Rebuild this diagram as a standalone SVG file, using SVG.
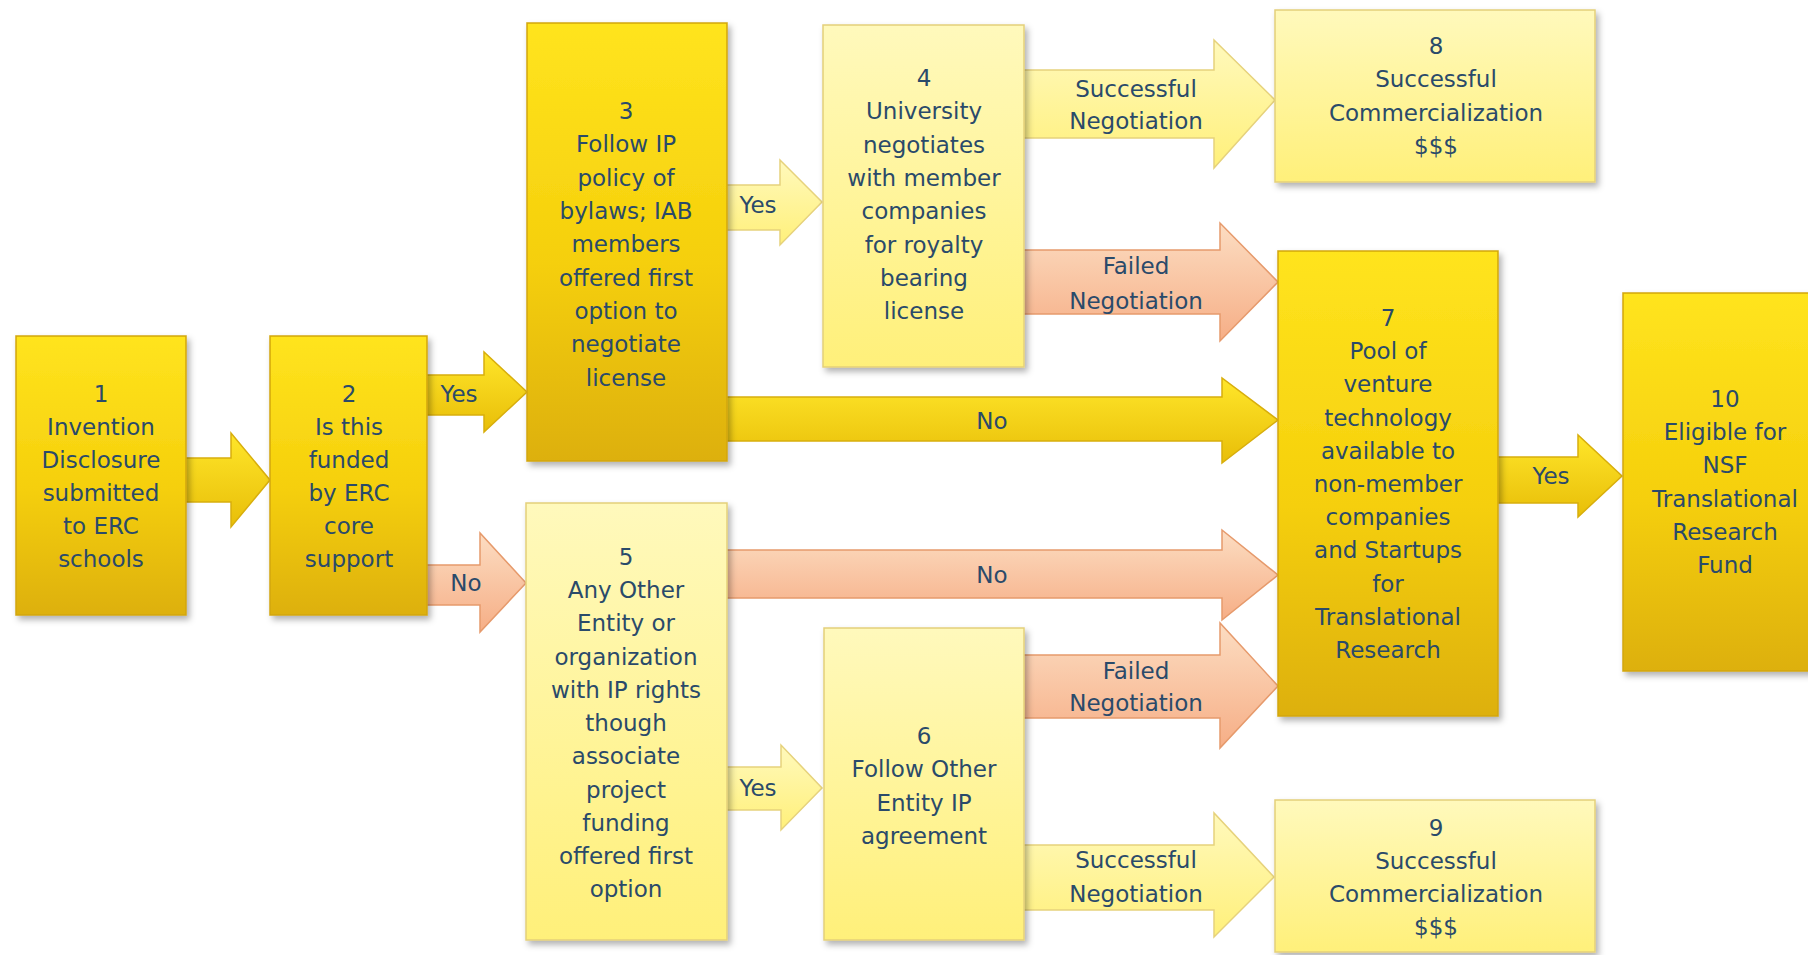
<svg xmlns="http://www.w3.org/2000/svg" width="1808" height="955" viewBox="0 0 1808 955">
<defs>
<linearGradient id="gGold" x1="0" y1="0" x2="0" y2="1">
<stop offset="0" stop-color="#FFE41E"/><stop offset="0.55" stop-color="#F5CF0C"/><stop offset="1" stop-color="#DDB00A"/>
</linearGradient>
<linearGradient id="gPale" x1="0" y1="0" x2="0" y2="1">
<stop offset="0" stop-color="#FFF9BC"/><stop offset="1" stop-color="#FFF07A"/>
</linearGradient>
<linearGradient id="gSalmon" x1="0" y1="0" x2="0" y2="1">
<stop offset="0" stop-color="#FCDDC2"/><stop offset="1" stop-color="#F6AE86"/>
</linearGradient>
<linearGradient id="gGoldA" x1="0" y1="0" x2="0" y2="1">
<stop offset="0" stop-color="#FFE62A"/><stop offset="1" stop-color="#E8BE08"/>
</linearGradient>
<filter id="sh" x="-10%" y="-10%" width="130%" height="130%">
<feDropShadow dx="3" dy="4" stdDeviation="3" flood-color="#000" flood-opacity="0.3"/>
</filter>
</defs>
<style>
.gold{fill:url(#gGold);stroke:#D2A60A;stroke-width:1.5;filter:url(#sh)}
.pale{fill:url(#gPale);stroke:#E4D07A;stroke-width:1.5;filter:url(#sh)}
.aG{fill:url(#gGoldA);stroke:#D8AE0C;stroke-width:1.5}
.aP{fill:url(#gPale);stroke:#E6D27C;stroke-width:1.5}
.aS{fill:url(#gSalmon);stroke:#E69A6C;stroke-width:1.5}
text{font-family:"DejaVu Sans","Verdana",sans-serif;font-size:23px;fill:#2A4A6A;text-anchor:middle}
</style>
<rect width="1808" height="955" fill="#FFFFFF"/>
<g id="connectors">
<path class="aG" d="M182,458 H231 V433 L270,480 L231,527 V502 H182 Z"/>
<path class="aG" d="M426,375 H484 V352 L527,392 L484,432 V415 H426 Z"/>
<path class="aS" d="M426,565 H480 V533 L526,583 L480,632 V605 H426 Z"/>
<path class="aP" d="M726,185 H780 V160 L822,202 L780,245 V230 H726 Z"/>
<path class="aP" d="M1023,70 H1214 V40 L1275,100 L1214,168 V138 H1023 Z"/>
<path class="aS" d="M1023,250 H1220 V223 L1278,282 L1220,341 V314 H1023 Z"/>
<path class="aG" d="M726,397 H1222 V378 L1278,420 L1222,463 V441 H726 Z"/>
<path class="aS" d="M726,550 H1222 V530 L1278,575 L1222,620 V598 H726 Z"/>
<path class="aS" d="M1023,655 H1220 V623 L1278,686 L1220,748 V718 H1023 Z"/>
<path class="aP" d="M1023,845 H1214 V813 L1274,877 L1214,937 V910 H1023 Z"/>
<path class="aP" d="M726,767 H781 V745 L822,788 L781,830 V810 H726 Z"/>
<path class="aG" d="M1496,457 H1578 V435 L1622,476 L1578,517 V503 H1496 Z"/>
<text x="459" y="402">Yes</text>
<text x="466" y="591">No</text>
<text x="758" y="213">Yes</text>
<text x="1136" y="97">Successful</text>
<text x="1136" y="129">Negotiation</text>
<text x="1136" y="274">Failed</text>
<text x="1136" y="309">Negotiation</text>
<text x="992" y="429">No</text>
<text x="992" y="583">No</text>
<text x="1136" y="679">Failed</text>
<text x="1136" y="711">Negotiation</text>
<text x="758" y="796">Yes</text>
<text x="1136" y="868">Successful</text>
<text x="1136" y="902">Negotiation</text>
<text x="1551" y="484">Yes</text>
</g>
<g id="n1">
<rect class="gold" x="16" y="336" width="170" height="279"/>
<text x="101" y="402">1</text><text x="101" y="435">Invention</text><text x="101" y="468">Disclosure</text><text x="101" y="501">submitted</text><text x="101" y="534">to ERC</text><text x="101" y="567">schools</text>
</g>
<g id="n2">
<rect class="gold" x="270" y="336" width="157" height="279"/>
<text x="349" y="402">2</text><text x="349" y="435">Is this</text><text x="349" y="468">funded</text><text x="349" y="501">by ERC</text><text x="349" y="534">core</text><text x="349" y="567">support</text>
</g>
<g id="n3">
<rect class="gold" x="527" y="23" width="200" height="438"/>
<text x="626" y="119">3</text><text x="626" y="152">Follow IP</text><text x="626" y="186">policy of</text><text x="626" y="219">bylaws; IAB</text><text x="626" y="252">members</text><text x="626" y="286">offered first</text><text x="626" y="319">option to</text><text x="626" y="352">negotiate</text><text x="626" y="386">license</text>
</g>
<g id="n4">
<rect class="pale" x="823" y="25" width="201" height="342"/>
<text x="924" y="86">4</text><text x="924" y="119">University</text><text x="924" y="153">negotiates</text><text x="924" y="186">with member</text><text x="924" y="219">companies</text><text x="924" y="253">for royalty</text><text x="924" y="286">bearing</text><text x="924" y="319">license</text>
</g>
<g id="n8">
<rect class="pale" x="1275" y="10" width="320" height="172"/>
<text x="1436" y="54">8</text><text x="1436" y="87">Successful</text><text x="1436" y="121">Commercialization</text><text x="1436" y="154">$$$</text>
</g>
<g id="n7">
<rect class="gold" x="1278" y="251" width="220" height="465"/>
<text x="1388" y="326">7</text><text x="1388" y="359">Pool of</text><text x="1388" y="392">venture</text><text x="1388" y="426">technology</text><text x="1388" y="459">available to</text><text x="1388" y="492">non-member</text><text x="1388" y="525">companies</text><text x="1388" y="558">and Startups</text><text x="1388" y="592">for</text><text x="1388" y="625">Translational</text><text x="1388" y="658">Research</text>
</g>
<g id="n10">
<rect class="gold" x="1623" y="293" width="210" height="378"/>
<text x="1725" y="407">10</text><text x="1725" y="440">Eligible for</text><text x="1725" y="473">NSF</text><text x="1725" y="507">Translational</text><text x="1725" y="540">Research</text><text x="1725" y="573">Fund</text>
</g>
<g id="n5">
<rect class="pale" x="526" y="503" width="201" height="437"/>
<text x="626" y="565">5</text><text x="626" y="598">Any Other</text><text x="626" y="631">Entity or</text><text x="626" y="665">organization</text><text x="626" y="698">with IP rights</text><text x="626" y="731">though</text><text x="626" y="764">associate</text><text x="626" y="798">project</text><text x="626" y="831">funding</text><text x="626" y="864">offered first</text><text x="626" y="897">option</text>
</g>
<g id="n6">
<rect class="pale" x="824" y="628" width="200" height="312"/>
<text x="924" y="744">6</text><text x="924" y="777">Follow Other</text><text x="924" y="811">Entity IP</text><text x="924" y="844">agreement</text>
</g>
<g id="n9">
<rect class="pale" x="1275" y="800" width="320" height="152"/>
<text x="1436" y="836">9</text><text x="1436" y="869">Successful</text><text x="1436" y="902">Commercialization</text><text x="1436" y="935">$$$</text>
</g>
</svg>
